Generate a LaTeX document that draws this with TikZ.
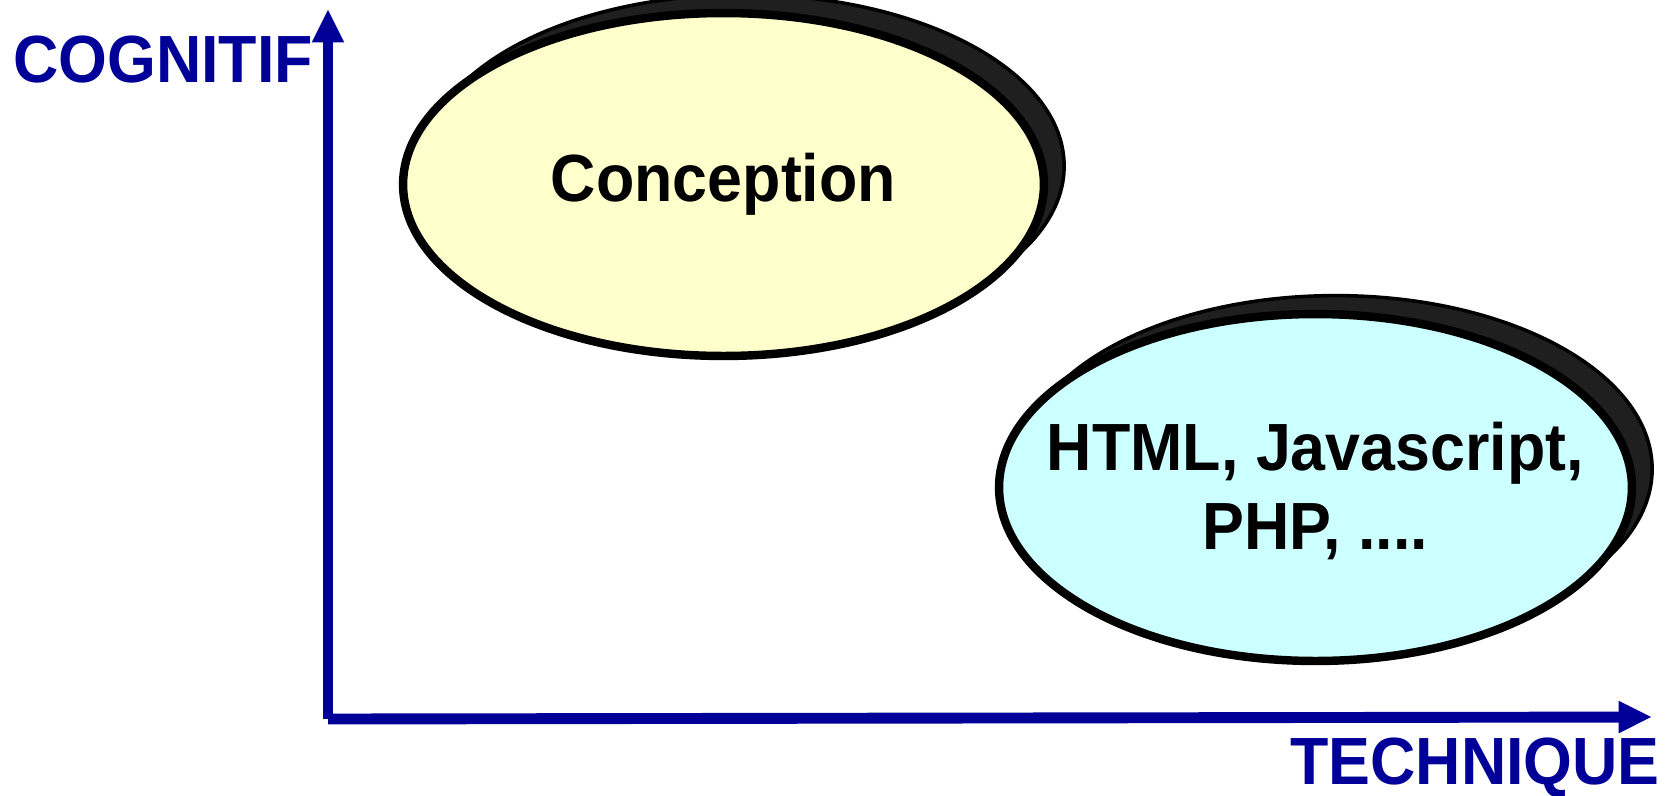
\documentclass[tikz,border=0pt]{standalone}
\usepackage{fontspec}
\setmainfont[FakeStretch=0.94]{Liberation Sans}
\usetikzlibrary{arrows.meta,shapes.geometric,shadows}
\definecolor{axisblue}{HTML}{000099}
\definecolor{paleyellow}{HTML}{FFFFCC}
\definecolor{palecyan}{HTML}{CCFFFF}

\begin{document}
\begin{tikzpicture}[x=0.02cm,y=-0.02cm,>={Triangle[length=19pt,width=17pt]},
                    axis/.style={->,draw=axisblue,line width=6.2pt},
                    axislabel/.style={text=axisblue,inner sep=0pt,
                                      font=\fontsize{38}{45}\selectfont\bfseries},
                    bubble/.style={ellipse,draw=black,line width=4.8pt,inner sep=0pt,
                                   general shadow={fill=black!88,draw=black,line width=2pt,
                                                   shadow xshift=11.5pt,shadow yshift=10.5pt}},
                    bubbletext/.style={align=center,inner sep=0pt,
                                       font=\fontsize{38}{45}\selectfont\bfseries}]

	\useasboundingbox (0,0) rectangle (1677,795);

	\coordinate (O)    at (328,719);
	\coordinate (Ytop) at (328,9);
	\coordinate (Xend) at (1652,717);

	\node[bubble,fill=paleyellow,minimum width=12.82cm,minimum height=6.86cm] (conc) at (723.5,184.5) {};
	\node[bubble,fill=palecyan,minimum width=12.66cm,minimum height=6.94cm]   (tech) at (1315.5,487.5) {};
	\node[bubbletext] (concl) at (conc.center) {Conception};
	\node[bubbletext] (techl) at ([yshift=-2pt]tech.center) {HTML, Javascript,\\PHP, ....};

	\node[axislabel,anchor=base] (cogn) at (163,82)   {COGNITIF};
	\node[axislabel,anchor=base] (tecn) at (1475,784) {TECHNIQUE};

	\draw[axis] (O) -- (Ytop);
	\draw[axis] (O) -- (Xend);

\end{tikzpicture}
\end{document}
